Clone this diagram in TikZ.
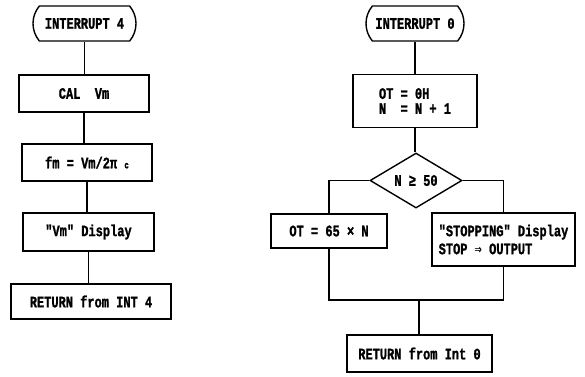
\documentclass[tikz,border=0pt]{standalone}
\usepackage{amsmath,amssymb}
\usepackage{fontspec}
\newfontfamily\flowfont[FakeStretch=0.75,FakeBold=1.2]{Liberation Mono}
\newfontfamily\arrowfont[FakeStretch=0.75]{DejaVu Sans Mono}
\usetikzlibrary{shapes.geometric,shapes.misc}

\begin{document}
\begin{tikzpicture}[x=1pt, y=-1pt, line width=1.4pt,
    every node/.style={font=\flowfont\bfseries\fontsize{16}{15}\selectfont, inner sep=1pt},
    term/.style={draw, rounded rectangle, rounded rectangle arc length=80, minimum height=35},
    box/.style={draw, rectangle},
    test/.style={draw, diamond, aspect=1.7, inner sep=0pt, minimum width=92, minimum height=55}]
    \useasboundingbox (0,0) rectangle (585,376);
    % left chart: interrupt 4
    \node[term, minimum width=105] (int4) at (84.5,23.5) {INTERRUPT 4};
    \node[box, minimum width=130, minimum height=37] (calvm) at (84,93.5) {CAL~~Vm};
    \node[box, minimum width=130, minimum height=37] (fm) at (87,162.5) {fm = Vm/2π {\fontsize{10}{10}\selectfont c}};
    \node[box, minimum width=131, minimum height=38] (vmdisp) at (88.5,232) {"Vm" Display};
    \node[box, minimum width=160, minimum height=35] (ret4) at (91,301.5) {RETURN from INT 4};
    \draw (int4.south) -- (int4.south |- calvm.north);
    \draw (calvm.south) -- (calvm.south |- fm.north);
    \draw (fm.south) -- (fm.south |- vmdisp.north);
    \draw (vmdisp.south) -- (vmdisp.south |- ret4.north);
    % right chart: interrupt 0
    \node[term, minimum width=100] (int0) at (415,23.5) {INTERRUPT 0};
    \node[box, minimum width=124, minimum height=53, align=left] (init) at (415,101) {OT = 0H\\N~~= N + 1};
    \node[test] (nchk) at (416,180.5) {N ≥ 50};
    \node[box, minimum width=143, minimum height=53, align=left] (stopping) at (503.5,239.5) {"STOPPING" Display\\[3pt]STOP {\arrowfont\bfseries ⇒} OUTPUT};
    \node[box, minimum width=116, minimum height=34] (otset) at (329,231) {OT = 65 × N};
    \node[box, minimum width=145, minimum height=37] (ret0) at (419.5,353.5) {RETURN from Int 0};
    \coordinate (join) at (419,300);
    \draw (int0.south) -- (int0.south |- init.north);
    \draw (init.south) -- (init.south |- nchk.north);
    \draw (nchk.west) -| (otset.north);
    \draw (nchk.east) -| (stopping.north);
    \draw (otset.south) |- (join) -| (stopping.south);
    \draw (join) -- (join |- ret0.north);
\end{tikzpicture}
\end{document}
